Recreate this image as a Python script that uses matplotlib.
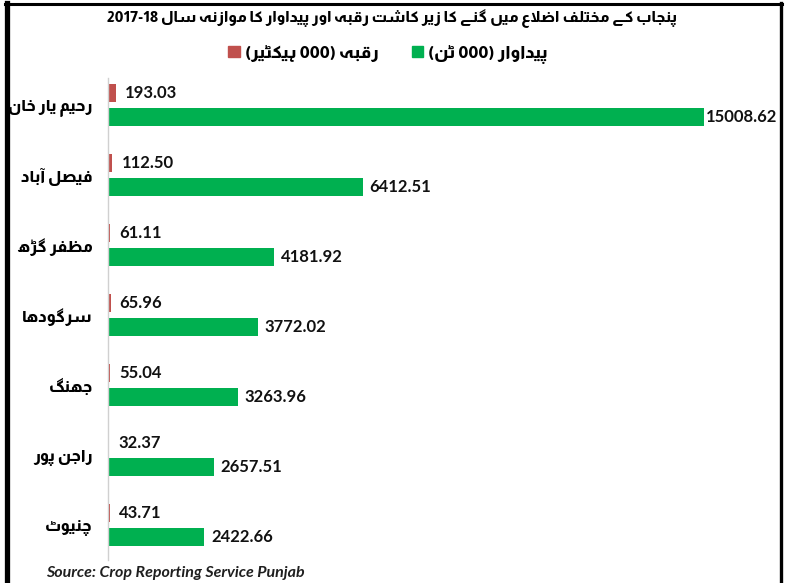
import re

import numpy as np
import matplotlib
matplotlib.use("Agg")
from matplotlib import pyplot as plt
from matplotlib import font_manager
from matplotlib.ft2font import FT2Font
from matplotlib.lines import Line2D
from matplotlib.patches import Patch

# Data (thousands)
districts = ["رحیم یار خان", "فیصل آباد", "مظفر گڑھ", "سرگودھا", "جھنگ", "راجن پور", "چنیوٹ"]
area = [193.03, 112.50, 61.11, 65.96, 55.04, 32.37, 43.71]            # 000 hectares
production = [15008.62, 6412.51, 4181.92, 3772.02, 3263.96, 2657.51, 2422.66]  # 000 tonnes

title = "پنجاب کے مختلف اضلاع میں گنے کا زیر کاشت رقبہ اور پیداوار کا موازنہ سال 2017-18"
area_label = "رقبہ (000 ہیکٹیر)"
prod_label = "پیداوار (000 ٹن)"
source = "Source: Crop Reporting Service Punjab"

RED = "#C0504D"
GREEN = "#00B050"

# Almarai has the urdu letters (DejaVu Sans misses heh goal and yeh barree)
UFONT = ["Almarai", "DejaVu Sans"]
UWEIGHT = 800
NFONT = "Lato"
CMAP = FT2Font(font_manager.findfont(
	font_manager.FontProperties(family=UFONT[0], weight=UWEIGHT))).get_charmap()

# matplotlib has no arabic shaping, so map letters to presentation forms by hand
# (isolated, final, initial, medial); letters without initial form only join to the right
FORMS = {
	'\u0627': (0xFE8D, 0xFE8E, None, None),  # alef
	'\u0622': (0xFE81, 0xFE82, None, None),  # alef madda
	'\u0628': (0xFE8F, 0xFE90, 0xFE91, 0xFE92),  # beh
	'\u067E': (0xFB56, 0xFB57, 0xFB58, 0xFB59),  # peh
	'\u062A': (0xFE95, 0xFE96, 0xFE97, 0xFE98),  # teh
	'\u0679': (0xFB66, 0xFB67, 0xFB68, 0xFB69),  # tteh
	'\u062C': (0xFE9D, 0xFE9E, 0xFE9F, 0xFEA0),  # jeem
	'\u0686': (0xFB7A, 0xFB7B, 0xFB7C, 0xFB7D),  # tcheh
	'\u062D': (0xFEA1, 0xFEA2, 0xFEA3, 0xFEA4),  # hah
	'\u062E': (0xFEA5, 0xFEA6, 0xFEA7, 0xFEA8),  # khah
	'\u062F': (0xFEA9, 0xFEAA, None, None),  # dal
	'\u0631': (0xFEAD, 0xFEAE, None, None),  # reh
	'\u0691': (0xFB8C, 0xFB8D, None, None),  # rreh
	'\u0632': (0xFEAF, 0xFEB0, None, None),  # zain
	'\u0633': (0xFEB1, 0xFEB2, 0xFEB3, 0xFEB4),  # seen
	'\u0634': (0xFEB5, 0xFEB6, 0xFEB7, 0xFEB8),  # sheen
	'\u0635': (0xFEB9, 0xFEBA, 0xFEBB, 0xFEBC),  # sad
	'\u0636': (0xFEBD, 0xFEBE, 0xFEBF, 0xFEC0),  # dad
	'\u0638': (0xFEC5, 0xFEC6, 0xFEC7, 0xFEC8),  # zah
	'\u0639': (0xFEC9, 0xFECA, 0xFECB, 0xFECC),  # ain
	'\u0641': (0xFED1, 0xFED2, 0xFED3, 0xFED4),  # feh
	'\u0642': (0xFED5, 0xFED6, 0xFED7, 0xFED8),  # qaf
	'\u06A9': (0xFB8E, 0xFB8F, 0xFB90, 0xFB91),  # keheh
	'\u06AF': (0xFB92, 0xFB93, 0xFB94, 0xFB95),  # gaf
	'\u0644': (0xFEDD, 0xFEDE, 0xFEDF, 0xFEE0),  # lam
	'\u0645': (0xFEE1, 0xFEE2, 0xFEE3, 0xFEE4),  # meem
	'\u0646': (0xFEE5, 0xFEE6, 0xFEE7, 0xFEE8),  # noon
	'\u06BA': (0xFB9E, 0xFB9F, 0xFEE7, 0xFEE8),  # noon ghunna
	'\u0648': (0xFEED, 0xFEEE, None, None),  # waw
	'\u06C1': (0xFBA6, 0xFBA7, 0xFBA8, 0xFBA9),  # heh goal
	'\u06BE': (0xFBAA, 0xFBAB, 0xFBAC, 0xFBAD),  # heh doachashmee
	'\u06CC': (0xFBFC, 0xFBFD, 0xFBFE, 0xFBFF),  # farsi yeh
	'\u06D2': (0xFBAE, 0xFBAF, None, None),  # yeh barree
}
LAM_ALEF = {'\u0627': (0xFEFB, 0xFEFC), '\u0622': (0xFEF5, 0xFEF6)}


def shape(txt):
	out = []
	i = 0
	n = len(txt)
	while i < n:
		c = txt[i]
		if c not in FORMS:
			out.append(c)
			i += 1
			continue
		prev = txt[i - 1] if i > 0 else ''
		jp = prev in FORMS and FORMS[prev][2] is not None
		if c == '\u0644' and i + 1 < n and txt[i + 1] in LAM_ALEF:
			iso, fin = LAM_ALEF[txt[i + 1]]
			g = fin if jp else iso
			if g in CMAP:
				out.append(chr(g))
				i += 2
				continue
		nxt = txt[i + 1] if i + 1 < n else ''
		iso, fin, ini, med = FORMS[c]
		jn = ini is not None and nxt in FORMS
		if jp and jn:
			g = med
		elif jp:
			g = fin
		elif jn:
			g = ini
		else:
			g = iso
		# the font does not have every form, fall back on the plain letter
		out.append(chr(g) if g in CMAP else c)
		i += 1
	return ''.join(out)


def urdu(txt):
	# shaped glyphs in visual (left to right) order, numbers kept as they are
	s = shape(txt)[::-1].translate(str.maketrans('()', ')('))
	return re.sub(r'[0-9][0-9.\-]*', lambda m: m.group(0)[::-1], s)


W, H = 788, 583
fig = plt.figure(figsize=(W / 100, H / 100), dpi=100)
ax = fig.add_axes([108 / W, (H - 560) / H, (780 - 108) / W, (560 - 78) / H])

y = np.arange(len(districts))
off = 0.171
bh = 0.27
ax.barh(y - off, area, height=bh, color=RED)
ax.barh(y + off, production, height=bh, color=GREEN)

xmax = 16922
ax.set_xlim(0, xmax)
ax.set_ylim(6.5, -0.386)

for yi, a, p in zip(y, area, production):
	ax.annotate(f"{a:.2f}", (a, yi - off), xytext=(6.5, 0), textcoords="offset points",
	            va="center", ha="left", fontsize=12, fontweight="bold", family=NFONT, color="#111111")
	pad = 5 if p < 0.8 * xmax else 1.5
	ax.annotate(f"{p:.2f}", (p, yi + off), xytext=(pad, 0), textcoords="offset points",
	            va="center", ha="left", fontsize=12, fontweight="bold", family=NFONT, color="#111111")

ax.set_yticks(y, [urdu(d) for d in districts])
for t in ax.get_yticklabels():
	t.set_fontfamily(UFONT)
	t.set_fontweight(UWEIGHT)
	t.set_fontsize(11.5)
ax.tick_params(axis="y", length=0, pad=11)
ax.set_xticks([])
for s in ["top", "right", "bottom"]:
	ax.spines[s].set_visible(False)
ax.spines["left"].set_color("#D0D0D0")
ax.spines["left"].set_linewidth(1)

fig.text(392 / W, 1 - 18 / H, urdu(title), ha="center", va="center",
         fontsize=11, fontweight=UWEIGHT, family=UFONT)

handles = [Patch(color=RED), Patch(color=GREEN)]
labels = [urdu(area_label), urdu(prod_label)]
fig.legend(handles, labels, loc="center", bbox_to_anchor=(388 / W, 1 - 54 / H), ncol=2,
           frameon=False, handlelength=0.65, handleheight=0.65, handletextpad=0.3, columnspacing=1.9,
           prop={"family": UFONT, "weight": UWEIGHT, "size": 12.5})

fig.text(46 / W, 1 - 573 / H, source, ha="left", va="center", fontsize=11.5,
         fontweight="bold", style="italic", family=NFONT, color="#1F1F1F")

# black frame on top, left and right
fig.add_artist(Line2D([6.5 / W, 6.5 / W], [0, 1 - 3 / H], color="black", lw=3.8))
fig.add_artist(Line2D([5 / W, 782 / W], [1 - 4 / H, 1 - 4 / H], color="black", lw=2.2))
fig.add_artist(Line2D([780.5 / W, 780.5 / W], [0, 1 - 3 / H], color="black", lw=2.4))

fig.savefig("out.png", dpi=100)
